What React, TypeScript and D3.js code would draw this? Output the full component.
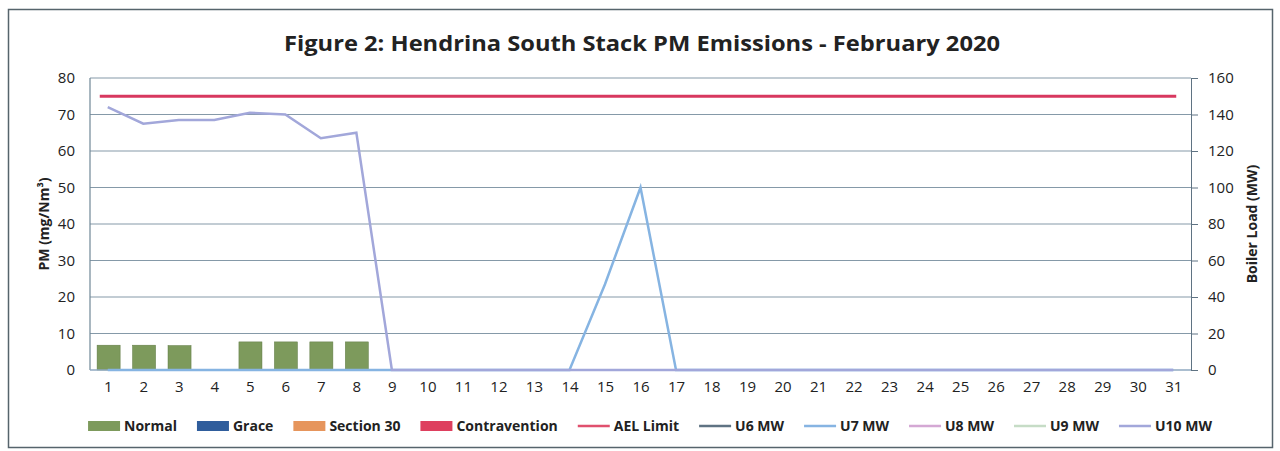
import React, { useEffect, useRef } from "react";
import * as d3 from "d3";

const days = d3.range(1, 32).map(String);
const normal = [6.8, 6.8, 6.7, 0, 7.7, 7.7, 7.7, 7.7, 0, 0, 0, 0, 0, 0, 0, 0, 0, 0, 0, 0, 0, 0, 0, 0, 0, 0, 0, 0, 0, 0, 0];
const aelLimit = 75;
const u7 = [0, 0, 0, 0, 0, 0, 0, 0, 0, 0, 0, 0, 0, 0, 47, 100, 0, 0, 0, 0, 0, 0, 0, 0, 0, 0, 0, 0, 0, 0, 0];
const u10 = [144, 135, 137, 137, 141, 140, 127, 130, 0, 0, 0, 0, 0, 0, 0, 0, 0, 0, 0, 0, 0, 0, 0, 0, 0, 0, 0, 0, 0, 0, 0];
const pmTicks = [0, 10, 20, 30, 40, 50, 60, 70, 80];
const mwTicks = [0, 20, 40, 60, 80, 100, 120, 140, 160];

const legendItems = [
  { name: "Normal", color: "#7d9a5c", kind: "rect" },
  { name: "Grace", color: "#2f5d9c", kind: "rect" },
  { name: "Section 30", color: "#e6955c", kind: "rect" },
  { name: "Contravention", color: "#de3f5e", kind: "rect" },
  { name: "AEL Limit", color: "#e0506e", kind: "line" },
  { name: "U6 MW", color: "#5f7383", kind: "line" },
  { name: "U7 MW", color: "#86b4e2", kind: "line" },
  { name: "U8 MW", color: "#d4a8d4", kind: "line" },
  { name: "U9 MW", color: "#c6dcc6", kind: "line" },
  { name: "U10 MW", color: "#a2a7da", kind: "line" },
];

const FONT = "'Open Sans', 'Liberation Sans', sans-serif";

function Chart() {
  const ref = useRef<SVGSVGElement>(null);

  useEffect(() => {
    const svg = d3.select(ref.current);
    svg.selectAll("*").remove();

    const left = 90, right = 1191, top = 78, bottom = 370;

    svg.append("rect")
      .attr("x", 8.5).attr("y", 9.5).attr("width", 1264).attr("height", 438)
      .attr("fill", "#fff").attr("stroke", "#56646c").attr("stroke-width", 1.5);

    svg.append("text")
      .attr("x", 642).attr("y", 51).attr("text-anchor", "middle")
      .attr("font-family", FONT).attr("font-weight", "bold").attr("font-size", 22)
      .attr("fill", "#222")
      .attr("textLength", 716).attr("lengthAdjust", "spacingAndGlyphs")
      .text("Figure 2: Hendrina South Stack PM Emissions -  February 2020");

    const x = d3.scaleBand().domain(days).range([left, right]).paddingInner(0.35).paddingOuter(0.2);
    const xp = d3.scalePoint().domain(days).range([left, right]).padding(0.5);
    const y = d3.scaleLinear().domain([0, 80]).range([bottom, top]);
    const y2 = d3.scaleLinear().domain([0, 160]).range([bottom, top]);

    // gridlines
    svg.append("g").selectAll("line").data(pmTicks.filter(d => d > 0)).join("line")
      .attr("x1", left).attr("x2", right)
      .attr("y1", d => y(d)).attr("y2", d => y(d))
      .attr("stroke", "#8599a8").attr("stroke-width", 1);

    // bars
    svg.append("g").selectAll("rect").data(normal).join("rect")
      .attr("x", (d, i) => x(days[i])!)
      .attr("width", x.bandwidth())
      .attr("y", d => y(d))
      .attr("height", d => bottom - y(d))
      .attr("fill", "#7d9a5c").attr("stroke", "#5f7a44").attr("stroke-width", 0.5);

    // axes frame
    svg.append("line").attr("x1", left).attr("x2", left).attr("y1", top).attr("y2", bottom)
      .attr("stroke", "#6f8796").attr("stroke-width", 1.2);
    svg.append("line").attr("x1", left).attr("x2", right).attr("y1", bottom).attr("y2", bottom)
      .attr("stroke", "#8fa8c0").attr("stroke-width", 1.5);

    const yAxisR = svg.append("g").attr("transform", `translate(${right},0)`)
      .call(d3.axisRight(y2).tickValues(mwTicks).tickSize(7).tickPadding(10));
    yAxisR.select(".domain").attr("stroke", "#5f7383");
    yAxisR.selectAll(".tick line").attr("stroke", "#5f7383");
    yAxisR.selectAll("text").attr("font-family", FONT).attr("font-size", 15).attr("fill", "#222");

    const yAxisL = svg.append("g").attr("transform", `translate(${left},0)`)
      .call(d3.axisLeft(y).tickValues(pmTicks).tickSize(0).tickPadding(15));
    yAxisL.select(".domain").remove();
    yAxisL.selectAll("text").attr("font-family", FONT).attr("font-size", 15).attr("fill", "#222");

    const xAxis = svg.append("g").attr("transform", `translate(0,${bottom})`)
      .call(d3.axisBottom(xp).tickSize(0).tickPadding(11));
    xAxis.select(".domain").remove();
    xAxis.selectAll("text").attr("font-family", FONT).attr("font-size", 15).attr("fill", "#222");

    // AEL limit
    svg.append("line")
      .attr("x1", xp("1")! - 8).attr("x2", xp("31")! + 3)
      .attr("y1", y(aelLimit)).attr("y2", y(aelLimit))
      .attr("stroke", "#d8385f").attr("stroke-width", 3);

    const line = d3.line<number>().x((d, i) => xp(days[i])!).y(d => y2(d));
    svg.append("path").datum(u7).attr("d", line)
      .attr("fill", "none").attr("stroke", "#86b4e2").attr("stroke-width", 2.5);
    svg.append("path").datum(u10).attr("d", line)
      .attr("fill", "none").attr("stroke", "#a2a7da").attr("stroke-width", 2.5);

    // axis titles
    svg.append("text")
      .attr("transform", "translate(49,224) rotate(-90)").attr("text-anchor", "middle")
      .attr("font-family", FONT).attr("font-weight", "bold").attr("font-size", 14).attr("fill", "#222")
      .text("PM (mg/Nm³)");
    svg.append("text")
      .attr("transform", "translate(1257,224) rotate(-90)").attr("text-anchor", "middle")
      .attr("font-family", FONT).attr("font-weight", "bold").attr("font-size", 14).attr("fill", "#222")
      .text("Boiler Load (MW)");

    // legend
    const gap = 20;
    const lg = svg.append("g");
    let cx = 0;
    legendItems.forEach(item => {
      const g = lg.append("g").attr("transform", `translate(${cx},0)`);
      if (item.kind === "rect") {
        g.append("rect").attr("x", 0).attr("y", -5).attr("width", 32).attr("height", 10).attr("fill", item.color);
      } else {
        g.append("line").attr("x1", 0).attr("x2", 32).attr("y1", 0).attr("y2", 0)
          .attr("stroke", item.color).attr("stroke-width", 2.5);
      }
      const t = g.append("text").attr("x", 36).attr("y", 5)
        .attr("font-family", FONT).attr("font-weight", "bold").attr("font-size", 14).attr("fill", "#222")
        .text(item.name);
      const w = (t.node() as SVGTextElement).getComputedTextLength();
      cx += 36 + w + gap;
    });
    const total = cx - gap;
    lg.attr("transform", `translate(${650 - total / 2},426)`);
  }, []);

  return <svg ref={ref} width={1280} height={451} style={{ display: "block" }} />;
}

export default function App() {
  return (
    <div style={{ position: "absolute", left: 0, top: 0 }}>
      <Chart />
    </div>
  );
}
